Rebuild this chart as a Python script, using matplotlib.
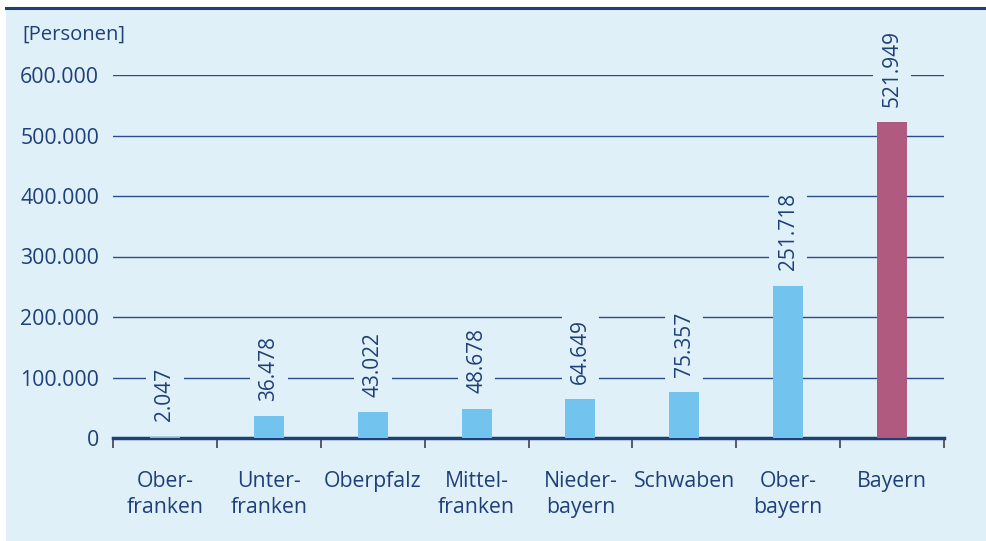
import numpy as np
import matplotlib.pyplot as plt
from matplotlib.ticker import FixedLocator, FuncFormatter
from matplotlib.patches import Rectangle
from matplotlib.lines import Line2D

plt.rcParams['font.family'] = ['Open Sans', 'DejaVu Sans']

# data
regionen = ['Ober-\nfranken', 'Unter-\nfranken', 'Oberpfalz', 'Mittel-\nfranken',
            'Nieder-\nbayern', 'Schwaben', 'Ober-\nbayern', 'Bayern']
personen = [2047, 36478, 43022, 48678, 64649, 75357, 251718, 521949]
labels = ['2.047', '36.478', '43.022', '48.678', '64.649', '75.357', '251.718', '521.949']

bg = '#e0f0f8'
navy = '#1e3f7a'
hell = '#72c3ed'
rot = '#b05a80'

fig = plt.figure(figsize=(9.87, 5.41), dpi=100, facecolor='white')
# hintergrund panel + linie oben
fig.patches.append(Rectangle((6 / 987, 0), 981 / 987, 1 - 8 / 541, transform=fig.transFigure,
                             facecolor=bg, edgecolor='none', zorder=-5))
fig.lines.append(Line2D([6 / 987, 1], [1 - 8 / 541, 1 - 8 / 541], transform=fig.transFigure,
                        color=navy, lw=2.2, zorder=-4))

ax = fig.add_axes([113 / 987, 103 / 541, 831 / 987, 363 / 541])
ax.set_facecolor('none')

x = np.arange(len(regionen))
farben = [hell] * (len(regionen) - 1) + [rot]
ax.bar(x, personen, width=0.29, color=farben, zorder=5)

ax.set_xlim(-0.5, len(regionen) - 0.5)
ax.set_ylim(0, 600000)
ax.yaxis.set_major_locator(FixedLocator(np.arange(0, 600001, 100000)))
ax.yaxis.set_major_formatter(FuncFormatter(lambda v, p: f'{int(v):,}'.replace(',', '.')))
ax.grid(axis='y', color='#2a4d8a', lw=1.0, zorder=1)
ax.set_axisbelow(True)

for s in ['top', 'right', 'left']:
    ax.spines[s].set_visible(False)
ax.spines['bottom'].set_color(navy)
ax.spines['bottom'].set_linewidth(2.5)
ax.spines['bottom'].set_zorder(4)

ax.tick_params(axis='y', length=0, pad=10, labelsize=15.3, labelcolor=navy)
ax.set_xticks(x)
ax.set_xticklabels(regionen, fontsize=15.3, color=navy, linespacing=1.3)
ax.tick_params(axis='x', which='major', length=0, pad=24)
ax.set_xticks(np.arange(-0.5, len(regionen)), minor=True)
ax.tick_params(axis='x', which='minor', length=7.5, width=1.1, color='#333333', direction='out')

# werte ueber den balken
for xi, v, t in zip(x, personen, labels):
    ax.annotate(t, (xi, v), xytext=(0, 11), textcoords='offset points', rotation=90,
                ha='center', va='bottom', fontsize=15, color=navy, zorder=6,
                bbox=dict(boxstyle='square,pad=0.4', facecolor=bg, edgecolor='none'),
                annotation_clip=False)

fig.text(22 / 987, 1 - 35 / 541, '[Personen]', fontsize=14.6, color=navy, va='center', ha='left')

fig.savefig('out.png', dpi=100, facecolor='white')
